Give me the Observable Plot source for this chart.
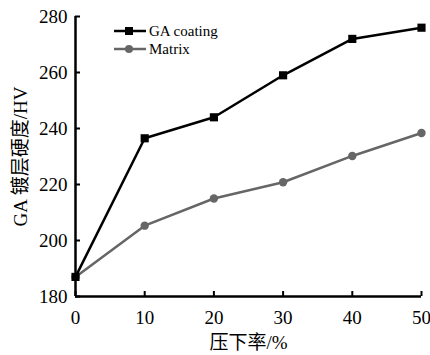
<!DOCTYPE html>
<html><head><meta charset="utf-8">
<script src="https://cdn.jsdelivr.net/npm/d3@7"></script>
<script src="https://cdn.jsdelivr.net/npm/@observablehq/plot@0.6"></script>
<style>
body{margin:0;background:#fff;}
#wrap{position:relative;width:430px;height:355px;font-family:"Liberation Serif","Noto Sans CJK SC",serif;}
#legend{position:absolute;left:113px;top:22px;font-size:15px;line-height:18px;color:#000;font-family:"Liberation Serif",serif;}
#legend div{display:flex;align-items:center;height:18px;}
#legend span{font-family:"Liberation Serif",serif;}
#legend svg{margin-right:2px;}
</style></head>
<body><div id="wrap"><div id="legend"></div></div>
<script>
const reduction = [0, 10, 20, 30, 40, 50];
const gaCoating = [187, 236.5, 244, 259, 272, 276];
const matrix = [187, 205.3, 215, 220.8, 230.2, 238.4];
const seriesNames = ["GA coating", "Matrix"];
const seriesColors = ["#000000", "#666666"];
const xTicks = [0, 10, 20, 30, 40, 50];
const yTicks = [180, 200, 220, 240, 260, 280];

const rows = [];
reduction.forEach((r, i) => {
  rows.push({x: r, y: gaCoating[i], s: seriesNames[0]});
  rows.push({x: r, y: matrix[i], s: seriesNames[1]});
});
const ga = rows.filter(d => d.s === seriesNames[0]);
const mx = rows.filter(d => d.s === seriesNames[1]);

const chart = Plot.plot({
  width: 430, height: 355,
  marginLeft: 75, marginRight: 9, marginTop: 16, marginBottom: 59,
  style: {fontFamily: '"Liberation Serif","Noto Sans CJK SC",serif', fontSize: "19px", color: "#000", background: "#fff"},
  x: {domain: [0, 50]},
  y: {domain: [180, 280]},
  marks: [
    Plot.axisX({ticks: xTicks, tickSize: -5, text: null, strokeWidth: 2, label: null}),
    Plot.axisX({ticks: xTicks, tickSize: 0, tickPadding: 14, fontSize: 19, label: "压下率/%", labelAnchor: "center", labelArrow: "none", labelOffset: 52}),
    Plot.axisY({ticks: yTicks, tickSize: -5, text: null, strokeWidth: 2, label: null}),
    Plot.axisY({ticks: yTicks, tickSize: 0, tickPadding: 8, fontSize: 19, label: "GA 镀层硬度/HV", labelAnchor: "center", labelArrow: "none", labelOffset: 62}),
    Plot.ruleY([180], {stroke: "#000", strokeWidth: 2.5}),
    Plot.ruleX([0], {stroke: "#000", strokeWidth: 2.5}),
    Plot.line(mx, {x: "x", y: "y", stroke: seriesColors[1], strokeWidth: 2.5}),
    Plot.dot(mx, {x: "x", y: "y", fill: seriesColors[1], r: 4.2, symbol: "circle"}),
    Plot.line(ga, {x: "x", y: "y", stroke: seriesColors[0], strokeWidth: 2.5}),
    Plot.dot(ga, {x: "x", y: "y", fill: seriesColors[0], r: 4.6, symbol: "square"})
  ]
});
const wrap = document.getElementById("wrap");
wrap.insertBefore(chart, wrap.firstChild);

const legend = document.getElementById("legend");
seriesNames.forEach((name, i) => {
  const row = document.createElement("div");
  const marker = i === 0
    ? `<rect x="12" y="5" width="8" height="8" fill="${seriesColors[i]}"/>`
    : `<circle cx="16" cy="9" r="4" fill="${seriesColors[i]}"/>`;
  row.innerHTML = `<svg width="34" height="18"><line x1="1" x2="33" y1="9" y2="9" stroke="${seriesColors[i]}" stroke-width="2.5"/>${marker}</svg><span>${name}</span>`;
  legend.appendChild(row);
});
</script></body></html>
